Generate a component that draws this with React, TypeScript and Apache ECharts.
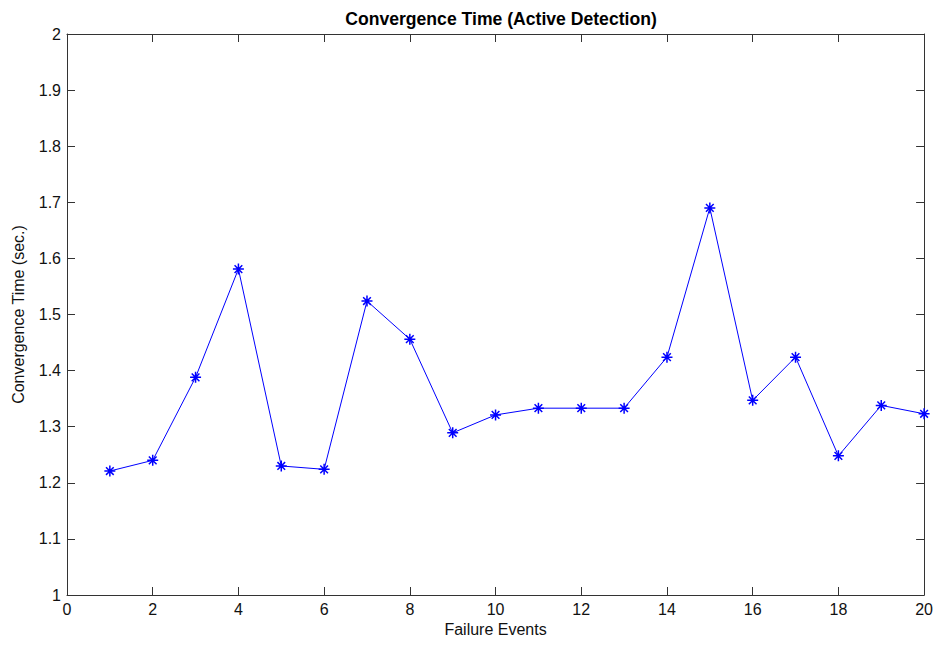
import React, { useEffect, useRef } from "react";
import * as echarts from "echarts";

const failureEvents = [1, 2, 3, 4, 5, 6, 7, 8, 9, 10, 11, 12, 13, 14, 15, 16, 17, 18, 19, 20];
const convergenceTime = [1.221, 1.240, 1.388, 1.581, 1.230, 1.224, 1.524, 1.456, 1.289, 1.321, 1.333, 1.333, 1.333, 1.424, 1.690, 1.347, 1.424, 1.248, 1.338, 1.323];

const titleText = "Convergence Time (Active Detection)";
const xName = "Failure Events";
const yName = "Convergence Time (sec.)";

const asterisk = "path://M0,-6L0,6M-6,0L6,0M-4.2,-4.2L4.2,4.2M-4.2,4.2L4.2,-4.2";

export default function App() {
  const ref = useRef<HTMLDivElement>(null);
  useEffect(() => {
    if (!ref.current) return;
    const chart = echarts.init(ref.current, undefined, { renderer: "svg" });
    const font = "Liberation Sans, Arial, sans-serif";
    const axisCommon = {
      axisLine: { show: true, onZero: false, lineStyle: { color: "#333", width: 1 } },
      axisTick: { show: true, inside: true, length: 8, lineStyle: { color: "#333" } },
      splitLine: { show: false },
    };
    chart.setOption({
      animation: false,
      backgroundColor: "#fff",
      title: {
        text: titleText,
        left: 496,
        textAlign: "center",
        top: 5,
        textStyle: { fontFamily: font, fontSize: 17.6, fontWeight: "bold", color: "#000" },
      },
      grid: { left: 67, top: 34, right: 10, bottom: 51, containLabel: false },
      xAxis: [
        {
          type: "value",
          min: 0,
          max: 20,
          interval: 2,
          position: "bottom",
          name: xName,
          nameLocation: "middle",
          nameGap: 22,
          nameTextStyle: { fontFamily: font, fontSize: 16, color: "#111" },
          axisLabel: { fontFamily: font, fontSize: 16, color: "#111", margin: 6 },
          ...axisCommon,
        },
        {
          type: "value",
          min: 0,
          max: 20,
          interval: 2,
          position: "top",
          axisLabel: { show: false },
          ...axisCommon,
        },
      ],
      yAxis: [
        {
          type: "value",
          min: 1,
          max: 2,
          interval: 0.1,
          position: "left",
          name: yName,
          nameLocation: "middle",
          nameGap: 41,
          nameTextStyle: { fontFamily: font, fontSize: 16, color: "#111" },
          axisLabel: { fontFamily: font, fontSize: 16, color: "#111", margin: 6 },
          ...axisCommon,
        },
        {
          type: "value",
          min: 1,
          max: 2,
          interval: 0.1,
          position: "right",
          axisLabel: { show: false },
          ...axisCommon,
        },
      ],
      series: [
        {
          type: "line",
          data: failureEvents.map((x, i) => [x, convergenceTime[i]]),
          xAxisIndex: 0,
          yAxisIndex: 0,
          symbol: asterisk,
          symbolSize: 11,
          showAllSymbol: true,
          lineStyle: { color: "#0000ff", width: 1 },
          itemStyle: { color: "#0000ff", borderColor: "#0000ff", borderWidth: 1.5 },
        },
      ],
    });
    return () => chart.dispose();
  }, []);
  return (
    <div
      ref={ref}
      style={{ position: "fixed", left: 0, top: 0, width: 936, height: 646, background: "#fff" }}
    />
  );
}
